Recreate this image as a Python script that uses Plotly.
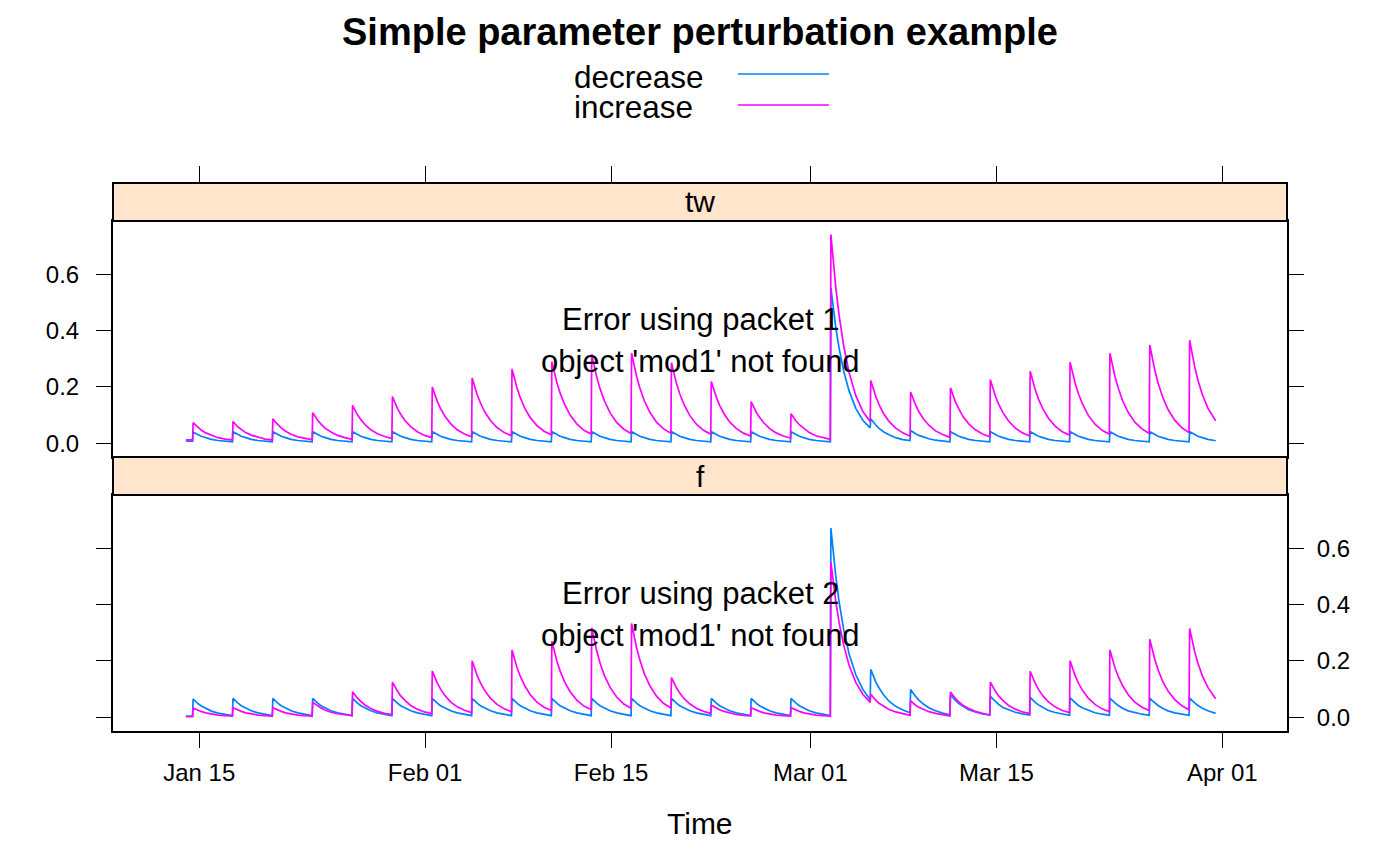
import plotly.graph_objects as go
import pandas as pd

# ---------------- data ----------------
start_time = "2012-01-14 00:00"
end_time = "2012-03-31 12:00"
event_times = [
    "2012-01-14 13:00", "2012-01-17 13:00", "2012-01-20 13:00", "2012-01-23 13:00",
    "2012-01-26 13:00", "2012-01-29 13:00", "2012-02-01 13:00", "2012-02-04 13:00",
    "2012-02-07 13:00", "2012-02-10 13:00", "2012-02-13 13:00", "2012-02-16 13:00",
    "2012-02-19 13:00", "2012-02-22 13:00", "2012-02-25 13:00", "2012-02-28 13:00",
    "2012-03-02 13:00", "2012-03-05 13:00", "2012-03-08 13:00", "2012-03-11 13:00",
    "2012-03-14 13:00", "2012-03-17 13:00", "2012-03-20 13:00", "2012-03-23 13:00",
    "2012-03-26 13:00", "2012-03-29 13:00",
]
# hours relative to each event at which the values were read (before, peak, decay ...)
sample_offsets_h = [-1, 0, 4, 9, 15, 23, 33, 45, 58]

# panel "tw", group "increase"
inc_tw_start, inc_tw_end = 0.012, 0.080
inc_tw = [
    [0.012, 0.073, 0.065, 0.055, 0.046, 0.037, 0.028, 0.020, 0.015],
    [0.012, 0.077, 0.068, 0.058, 0.049, 0.038, 0.029, 0.021, 0.015],
    [0.012, 0.087, 0.077, 0.066, 0.055, 0.043, 0.032, 0.023, 0.017],
    [0.013, 0.109, 0.096, 0.082, 0.068, 0.053, 0.040, 0.028, 0.020],
    [0.014, 0.135, 0.119, 0.101, 0.084, 0.065, 0.048, 0.034, 0.024],
    [0.017, 0.166, 0.146, 0.124, 0.103, 0.080, 0.059, 0.041, 0.028],
    [0.020, 0.200, 0.176, 0.149, 0.123, 0.096, 0.070, 0.048, 0.033],
    [0.023, 0.232, 0.204, 0.173, 0.143, 0.111, 0.081, 0.056, 0.038],
    [0.027, 0.264, 0.232, 0.197, 0.162, 0.125, 0.091, 0.063, 0.043],
    [0.030, 0.290, 0.254, 0.216, 0.178, 0.138, 0.100, 0.069, 0.046],
    [0.033, 0.316, 0.277, 0.235, 0.194, 0.150, 0.109, 0.074, 0.050],
    [0.035, 0.320, 0.281, 0.238, 0.196, 0.151, 0.110, 0.075, 0.051],
    [0.036, 0.286, 0.251, 0.213, 0.176, 0.136, 0.099, 0.068, 0.046],
    [0.032, 0.219, 0.192, 0.164, 0.135, 0.105, 0.076, 0.053, 0.036],
    [0.026, 0.148, 0.130, 0.111, 0.092, 0.072, 0.053, 0.037, 0.026],
    [0.019, 0.105, 0.093, 0.079, 0.066, 0.052, 0.038, 0.027, 0.020],
    [0.014, 0.741, 0.649, 0.550, 0.452, 0.347, 0.250, 0.169, 0.112],
    [0.077, 0.223, 0.196, 0.167, 0.137, 0.106, 0.078, 0.054, 0.037],
    [0.025, 0.182, 0.160, 0.136, 0.112, 0.087, 0.064, 0.044, 0.031],
    [0.021, 0.197, 0.173, 0.147, 0.122, 0.094, 0.069, 0.048, 0.033],
    [0.023, 0.226, 0.198, 0.169, 0.139, 0.108, 0.079, 0.054, 0.037],
    [0.026, 0.256, 0.225, 0.191, 0.157, 0.122, 0.089, 0.061, 0.041],
    [0.029, 0.288, 0.253, 0.215, 0.177, 0.137, 0.099, 0.068, 0.046],
    [0.032, 0.320, 0.281, 0.238, 0.196, 0.151, 0.110, 0.075, 0.051],
    [0.035, 0.349, 0.306, 0.260, 0.214, 0.165, 0.120, 0.082, 0.055],
    [0.038, 0.366, 0.321, 0.273, 0.224, 0.173, 0.125, 0.086],
]

# panel "tw", group "decrease"
dec_tw_start, dec_tw_end = 0.008, 0.009
dec_tw = [
    [0.008, 0.040, 0.035, 0.030, 0.025, 0.019, 0.014, 0.010, 0.007],
    [0.005, 0.041, 0.036, 0.031, 0.025, 0.020, 0.014, 0.010, 0.007],
    [0.005, 0.041, 0.036, 0.031, 0.025, 0.020, 0.014, 0.010, 0.007],
    [0.005, 0.041, 0.036, 0.031, 0.025, 0.020, 0.014, 0.010, 0.007],
    [0.005, 0.041, 0.036, 0.031, 0.025, 0.020, 0.014, 0.010, 0.007],
    [0.005, 0.041, 0.036, 0.031, 0.025, 0.020, 0.014, 0.010, 0.007],
    [0.005, 0.041, 0.036, 0.031, 0.025, 0.020, 0.014, 0.010, 0.007],
    [0.005, 0.041, 0.036, 0.031, 0.025, 0.020, 0.014, 0.010, 0.007],
    [0.005, 0.041, 0.036, 0.031, 0.025, 0.020, 0.014, 0.010, 0.007],
    [0.005, 0.041, 0.036, 0.031, 0.025, 0.020, 0.014, 0.010, 0.007],
    [0.005, 0.041, 0.036, 0.031, 0.025, 0.020, 0.014, 0.010, 0.007],
    [0.005, 0.041, 0.036, 0.031, 0.025, 0.020, 0.014, 0.010, 0.007],
    [0.005, 0.041, 0.036, 0.031, 0.025, 0.020, 0.014, 0.010, 0.007],
    [0.005, 0.041, 0.036, 0.031, 0.025, 0.020, 0.014, 0.010, 0.007],
    [0.005, 0.041, 0.036, 0.031, 0.025, 0.020, 0.014, 0.010, 0.007],
    [0.005, 0.041, 0.036, 0.031, 0.025, 0.020, 0.014, 0.010, 0.007],
    [0.005, 0.552, 0.483, 0.409, 0.336, 0.257, 0.185, 0.124, 0.081],
    [0.055, 0.087, 0.076, 0.065, 0.053, 0.041, 0.030, 0.020, 0.013],
    [0.010, 0.046, 0.040, 0.034, 0.028, 0.022, 0.016, 0.011, 0.008],
    [0.005, 0.041, 0.036, 0.031, 0.025, 0.020, 0.014, 0.010, 0.007],
    [0.005, 0.041, 0.036, 0.031, 0.025, 0.020, 0.014, 0.010, 0.007],
    [0.005, 0.041, 0.036, 0.031, 0.025, 0.020, 0.014, 0.010, 0.007],
    [0.005, 0.041, 0.036, 0.031, 0.025, 0.020, 0.014, 0.010, 0.007],
    [0.005, 0.041, 0.036, 0.031, 0.025, 0.020, 0.014, 0.010, 0.007],
    [0.005, 0.041, 0.036, 0.031, 0.025, 0.020, 0.014, 0.010, 0.007],
    [0.005, 0.041, 0.036, 0.031, 0.025, 0.020, 0.014, 0.010],
]

# panel "f", group "increase"
inc_f_start, inc_f_end = 0.002, 0.066
inc_f = [
    [0.002, 0.033, 0.029, 0.025, 0.020, 0.016, 0.012, 0.008, 0.006],
    [0.004, 0.034, 0.030, 0.025, 0.021, 0.016, 0.012, 0.008, 0.006],
    [0.004, 0.034, 0.030, 0.025, 0.021, 0.016, 0.012, 0.008, 0.006],
    [0.004, 0.053, 0.047, 0.040, 0.033, 0.025, 0.018, 0.013, 0.009],
    [0.006, 0.091, 0.080, 0.068, 0.056, 0.043, 0.031, 0.021, 0.014],
    [0.010, 0.125, 0.110, 0.093, 0.076, 0.059, 0.042, 0.029, 0.019],
    [0.013, 0.164, 0.144, 0.122, 0.100, 0.077, 0.055, 0.037, 0.025],
    [0.017, 0.201, 0.176, 0.149, 0.122, 0.094, 0.068, 0.046, 0.030],
    [0.020, 0.239, 0.209, 0.177, 0.145, 0.112, 0.080, 0.054, 0.036],
    [0.024, 0.270, 0.236, 0.200, 0.164, 0.126, 0.091, 0.061, 0.040],
    [0.027, 0.318, 0.278, 0.236, 0.193, 0.148, 0.107, 0.072, 0.047],
    [0.032, 0.333, 0.292, 0.247, 0.203, 0.155, 0.112, 0.075, 0.049],
    [0.033, 0.141, 0.124, 0.105, 0.086, 0.066, 0.048, 0.032, 0.021],
    [0.014, 0.043, 0.038, 0.032, 0.027, 0.021, 0.015, 0.010, 0.007],
    [0.005, 0.034, 0.030, 0.025, 0.021, 0.016, 0.012, 0.008, 0.006],
    [0.004, 0.034, 0.030, 0.025, 0.021, 0.016, 0.012, 0.008, 0.006],
    [0.004, 0.551, 0.482, 0.409, 0.335, 0.257, 0.184, 0.124, 0.081],
    [0.053, 0.082, 0.072, 0.061, 0.050, 0.039, 0.028, 0.019, 0.013],
    [0.007, 0.058, 0.051, 0.043, 0.036, 0.028, 0.020, 0.014, 0.009],
    [0.005, 0.090, 0.079, 0.067, 0.055, 0.042, 0.031, 0.021, 0.014],
    [0.008, 0.125, 0.110, 0.093, 0.076, 0.059, 0.042, 0.029, 0.019],
    [0.013, 0.163, 0.143, 0.121, 0.099, 0.076, 0.055, 0.037, 0.024],
    [0.017, 0.201, 0.176, 0.149, 0.122, 0.094, 0.068, 0.046, 0.030],
    [0.020, 0.239, 0.209, 0.177, 0.145, 0.112, 0.080, 0.054, 0.036],
    [0.024, 0.277, 0.242, 0.206, 0.169, 0.129, 0.093, 0.063, 0.041],
    [0.027, 0.315, 0.276, 0.234, 0.192, 0.147, 0.106, 0.071],
]

# panel "f", group "decrease"
dec_f_start, dec_f_end = 0.004, 0.014
dec_f = [
    [0.004, 0.065, 0.057, 0.048, 0.040, 0.031, 0.022, 0.015, 0.010],
    [0.006, 0.067, 0.059, 0.050, 0.041, 0.032, 0.023, 0.016, 0.011],
    [0.006, 0.067, 0.059, 0.050, 0.041, 0.032, 0.023, 0.016, 0.011],
    [0.006, 0.067, 0.059, 0.050, 0.041, 0.032, 0.023, 0.016, 0.011],
    [0.006, 0.067, 0.059, 0.050, 0.041, 0.032, 0.023, 0.016, 0.011],
    [0.006, 0.067, 0.059, 0.050, 0.041, 0.032, 0.023, 0.016, 0.011],
    [0.006, 0.067, 0.059, 0.050, 0.041, 0.032, 0.023, 0.016, 0.011],
    [0.006, 0.067, 0.059, 0.050, 0.041, 0.032, 0.023, 0.016, 0.011],
    [0.006, 0.067, 0.059, 0.050, 0.041, 0.032, 0.023, 0.016, 0.011],
    [0.006, 0.067, 0.059, 0.050, 0.041, 0.032, 0.023, 0.016, 0.011],
    [0.006, 0.067, 0.059, 0.050, 0.041, 0.032, 0.023, 0.016, 0.011],
    [0.006, 0.067, 0.059, 0.050, 0.041, 0.032, 0.023, 0.016, 0.011],
    [0.006, 0.067, 0.059, 0.050, 0.041, 0.032, 0.023, 0.016, 0.011],
    [0.006, 0.067, 0.059, 0.050, 0.041, 0.032, 0.023, 0.016, 0.011],
    [0.006, 0.067, 0.059, 0.050, 0.041, 0.032, 0.023, 0.016, 0.011],
    [0.006, 0.067, 0.059, 0.050, 0.041, 0.032, 0.023, 0.016, 0.011],
    [0.006, 0.672, 0.588, 0.498, 0.408, 0.313, 0.224, 0.151, 0.098],
    [0.062, 0.170, 0.149, 0.126, 0.104, 0.080, 0.057, 0.039, 0.026],
    [0.016, 0.099, 0.087, 0.074, 0.061, 0.047, 0.034, 0.023, 0.015],
    [0.009, 0.080, 0.070, 0.060, 0.049, 0.038, 0.027, 0.019, 0.012],
    [0.008, 0.075, 0.066, 0.056, 0.046, 0.035, 0.026, 0.018, 0.012],
    [0.008, 0.071, 0.062, 0.053, 0.044, 0.034, 0.024, 0.017, 0.011],
    [0.007, 0.069, 0.061, 0.051, 0.042, 0.033, 0.024, 0.016, 0.011],
    [0.007, 0.068, 0.060, 0.051, 0.042, 0.032, 0.023, 0.016, 0.011],
    [0.007, 0.068, 0.060, 0.051, 0.042, 0.032, 0.023, 0.016, 0.011],
    [0.007, 0.068, 0.060, 0.051, 0.042, 0.032, 0.023, 0.016],
]

panel_names = ["tw", "f"]
group_names = ["decrease", "increase"]
group_colors = ["#0080ff", "#ff00ff"]
x_tick_dates = ["2012-01-15", "2012-02-01", "2012-02-15", "2012-03-01", "2012-03-15", "2012-04-01"]
x_tick_labels = ["Jan 15", "Feb 01", "Feb 15", "Mar 01", "Mar 15", "Apr 01"]
y_tick_vals = [0.0, 0.2, 0.4, 0.6]
y_tick_labels = ["0.0", "0.2", "0.4", "0.6"]
x_range = ["2012-01-08 12:17", "2012-04-05 20:53"]
y_range = [-0.0486, 0.789]
error_lines = ["Error using packet {}", "object 'mod1' not found"]

# ---------------- build time axis from the table ----------------
times = [pd.Timestamp(start_time)]
for i, et in enumerate(event_times):
    t0 = pd.Timestamp(et)
    n = len(inc_tw[i])
    times += [t0 + pd.Timedelta(hours=h) for h in sample_offsets_h[:n]]
times.append(pd.Timestamp(end_time))


def flat(start, rows, end):
    out = [start]
    for r in rows:
        out += r
    out.append(end)
    return out


series = {
    ("tw", "decrease"): flat(dec_tw_start, dec_tw, dec_tw_end),
    ("tw", "increase"): flat(inc_tw_start, inc_tw, inc_tw_end),
    ("f", "decrease"): flat(dec_f_start, dec_f, dec_f_end),
    ("f", "increase"): flat(inc_f_start, inc_f, inc_f_end),
}

# ---------------- figure ----------------
W, H = 1400, 866
FONT = "Liberation Sans, Arial, Helvetica, sans-serif"


def px(x):
    return x / W


def py(y):
    return 1 - y / H


fig = go.Figure()
axes_ids = [("x", "y"), ("x2", "y2")]
for p, (xa, ya) in zip(panel_names, axes_ids):
    for g, c in zip(group_names, group_colors):
        fig.add_trace(go.Scatter(
            x=times, y=series[(p, g)], mode="lines", name=g,
            line=dict(color=c, width=1.7), xaxis=xa, yaxis=ya,
            showlegend=False, hoverinfo="skip"))

# an empty trace so that the outer time axis (ticks top and bottom) is drawn
fig.add_trace(go.Scatter(x=[times[0]], y=[None], mode="lines", xaxis="x3", yaxis="y3",
                         showlegend=False, hoverinfo="skip"))

# geometry (pixels)
L, R = 113, 1287
strip_top = [183, 457]
panel_top = [221, 495]
panel_bot = [457, 731]

common_x = dict(range=x_range, type="date", showgrid=False, zeroline=False,
                showline=True, linecolor="black", linewidth=2, mirror=True,
                ticks="", showticklabels=False, domain=[px(L), px(R)])
common_y = dict(range=y_range, showgrid=False, zeroline=False,
                showline=True, linecolor="black", linewidth=2, mirror="ticks",
                ticks="outside", ticklen=15, tickwidth=1.3, tickcolor="black",
                tickvals=y_tick_vals, ticktext=y_tick_labels,
                tickfont=dict(family=FONT, size=24, color="black"))

fig.update_layout(
    width=W, height=H,
    margin=dict(l=0, r=0, t=0, b=0),
    paper_bgcolor="white", plot_bgcolor="rgba(0,0,0,0)",
    showlegend=False,
    xaxis=dict(common_x, anchor="y"),
    yaxis=dict(common_y, anchor="x", side="left", ticklabelstandoff=12,
               domain=[py(panel_bot[0]), py(panel_top[0])]),
    xaxis2=dict(common_x, anchor="y2", matches="x"),
    yaxis2=dict(common_y, anchor="x2", side="right", ticklabelstandoff=8,
                domain=[py(panel_bot[1]), py(panel_top[1])]),
    xaxis3=dict(range=x_range, type="date", showgrid=False, zeroline=False,
                showline=False, ticks="outside", ticklen=16, tickwidth=1.3,
                tickcolor="black", mirror="ticks", anchor="y3", side="bottom",
                tickvals=x_tick_dates, ticktext=x_tick_labels,
                tickfont=dict(family=FONT, size=24, color="black"),
                ticklabelstandoff=4, domain=[px(L), px(R)]),
    yaxis3=dict(range=[0, 1], visible=False, anchor="x3",
                domain=[py(panel_bot[1]), py(strip_top[0])]),
)

# strips
for p, st, pt in zip(panel_names, strip_top, panel_top):
    fig.add_shape(type="rect", xref="paper", yref="paper",
                  x0=px(L), x1=px(R), y0=py(pt), y1=py(st),
                  fillcolor="#ffe5cc", line=dict(color="black", width=2),
                  layer="above")
    fig.add_annotation(text=p, xref="paper", yref="paper",
                       x=0.5 * (px(L) + px(R)), y=py((st + pt) / 2),
                       xanchor="center", yanchor="middle", showarrow=False,
                       font=dict(family=FONT, size=30, color="black"))

# error messages in each panel
for k, pt in enumerate(panel_top):
    for j, line in enumerate(error_lines):
        fig.add_annotation(text=line.format(k + 1), xref="paper", yref="paper",
                           x=0.5 * (px(L) + px(R)), y=py(pt + 98 + 42 * j),
                           xanchor="center", yanchor="middle", showarrow=False,
                           font=dict(family=FONT, size=31, color="black"))

# title
fig.add_annotation(text="<b>Simple parameter perturbation example</b>",
                   xref="paper", yref="paper", x=0.5, y=py(32),
                   xanchor="center", yanchor="middle", showarrow=False,
                   font=dict(family=FONT, size=38, color="black"))

# legend (text left, line right)
for j, (g, c) in enumerate(zip(group_names, group_colors)):
    yc = 77 + 30 * j
    fig.add_annotation(text=g, xref="paper", yref="paper", x=px(572), y=py(yc),
                       xanchor="left", yanchor="middle", showarrow=False,
                       height=28, valign="middle",
                       font=dict(family=FONT, size=31.5, color="black"))
    fig.add_shape(type="line", xref="paper", yref="paper",
                  x0=px(738), x1=px(829), y0=py(74 + 31 * j), y1=py(74 + 31 * j),
                  line=dict(color=c, width=1.6))

# x axis title
fig.add_annotation(text="Time", xref="paper", yref="paper", x=0.5, y=py(823),
                   xanchor="center", yanchor="middle", showarrow=False,
                   font=dict(family=FONT, size=30, color="black"))

fig.write_html("out.html")
